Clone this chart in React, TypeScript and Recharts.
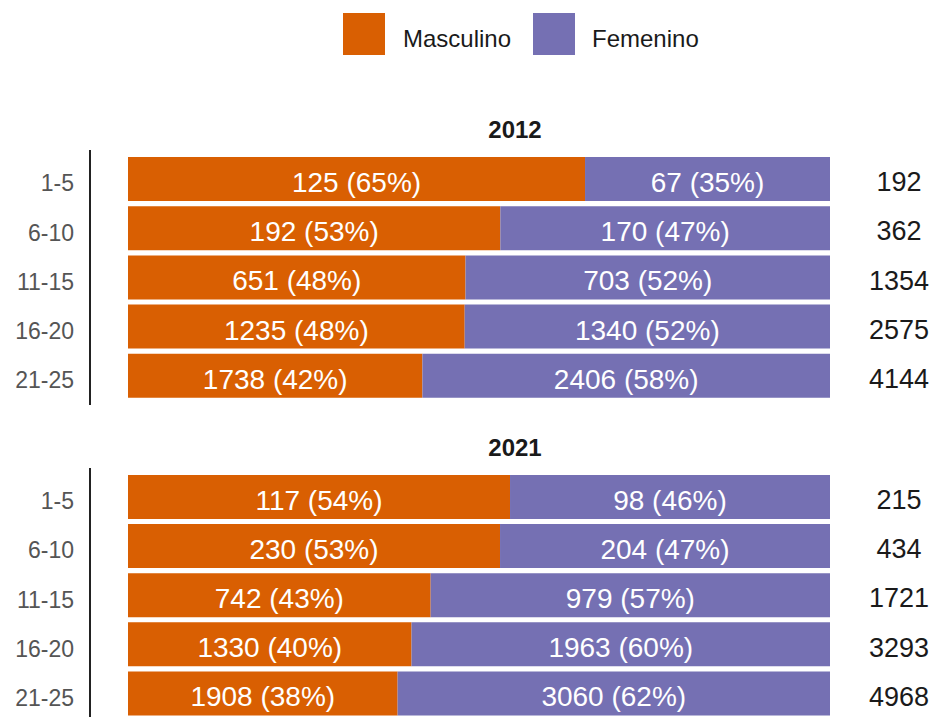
import React from 'react';
import { BarChart, Bar, XAxis, YAxis, LabelList } from 'recharts';

const ageGroups = ['1-5', '6-10', '11-15', '16-20', '21-25'];
const masc2012 = [125, 192, 651, 1235, 1738];
const fem2012 = [67, 170, 703, 1340, 2406];
const masc2021 = [117, 230, 742, 1330, 1908];
const fem2021 = [98, 204, 979, 1963, 3060];
const seriesNames = ['Masculino', 'Femenino'];
const years = ['2012', '2021'];

const COLOR_M = '#D95F02';
const COLOR_F = '#7570B3';
const FONT = '"Liberation Sans", Arial, sans-serif';

function buildRows(m: number[], f: number[]) {
  return ageGroups.map((g, i) => {
    const total = m[i] + f[i];
    return {
      group: g,
      m: m[i],
      f: f[i],
      total,
      mp: m[i] / total,
      fp: f[i] / total,
      mLabel: `${m[i]} (${Math.round((m[i] / total) * 100)}%)`,
      fLabel: `${f[i]} (${Math.round((f[i] / total) * 100)}%)`,
    };
  });
}

const rows2012 = buildRows(masc2012, fem2012);
const rows2021 = buildRows(masc2021, fem2021);

const BAR_FS = 28;
const TOT_FS = 27;
const TICK_FS = 23;

const segLabel = (props: any) => {
  const { x, y, width, height, value } = props;
  const cx = Number(x) + Number(width) / 2;
  const cy = Number(y) + Number(height) / 2;
  return (
    <text x={cx} y={cy + BAR_FS * 0.36 + 3} textAnchor="middle" fill="#ffffff" fontSize={BAR_FS} fontFamily={FONT}>
      {value}
    </text>
  );
};

const totalLabel = (props: any) => {
  const { x, y, width, height, value } = props;
  const cx = Number(x) + Number(width) + 69;
  const cy = Number(y) + Number(height) / 2;
  return (
    <text x={cx} y={cy + TOT_FS * 0.36 + 2.5} textAnchor="middle" fill="#1a1a1a" fontSize={TOT_FS} fontFamily={FONT}>
      {value}
    </text>
  );
};

const yTick = (props: any) => {
  const { x, y, payload } = props;
  return (
    <text x={Number(x)} y={Number(y) + TICK_FS * 0.36 + 4.5} textAnchor="end" fill="#555555" fontSize={TICK_FS} fontFamily={FONT}>
      {payload.value}
    </text>
  );
};

function Panel({ data, height, margin, padBottom }: any) {
  return (
    <BarChart width={935} height={height} data={data} layout="vertical" margin={margin}>
      <XAxis type="number" domain={[0, 1]} hide padding={{ left: 38, right: 0 }} />
      <YAxis
        type="category"
        dataKey="group"
        width={90}
        interval={0}
        tickLine={false}
        tickSize={0}
        tickMargin={16}
        axisLine={{ stroke: '#222222', strokeWidth: 2 }}
        tick={yTick}
        padding={{ top: 4, bottom: padBottom }}
      />
      <Bar dataKey="mp" stackId="a" fill={COLOR_M} barSize={44} isAnimationActive={false}>
        <LabelList dataKey="mLabel" content={segLabel} />
      </Bar>
      <Bar dataKey="fp" stackId="a" fill={COLOR_F} barSize={44} isAnimationActive={false}>
        <LabelList dataKey="fLabel" content={segLabel} />
        <LabelList dataKey="total" content={totalLabel} />
      </Bar>
    </BarChart>
  );
}

export default function App() {
  return (
    <div style={{ position: 'absolute', left: 0, top: 0, width: 935, height: 717, overflow: 'hidden', background: '#ffffff' }}>
      <svg width={935} height={717} style={{ position: 'absolute', left: 0, top: 0 }}>
        <rect x={343} y={13} width={42} height={42} fill={COLOR_M} />
        <text x={403} y={47} fontSize={24} fontFamily={FONT} fill="#1a1a1a">{seriesNames[0]}</text>
        <rect x={533} y={13} width={42} height={42} fill={COLOR_F} />
        <text x={592} y={47} fontSize={24} fontFamily={FONT} fill="#1a1a1a">{seriesNames[1]}</text>
        <text x={515} y={138} fontSize={24} fontWeight="bold" textAnchor="middle" fontFamily={FONT} fill="#1a1a1a">{years[0]}</text>
        <text x={515} y={456} fontSize={24} fontWeight="bold" textAnchor="middle" fontFamily={FONT} fill="#1a1a1a">{years[1]}</text>
      </svg>
      <div style={{ position: 'absolute', left: 0, top: 0 }}>
        <Panel data={rows2012} height={420} margin={{ top: 150, right: 105, bottom: 15, left: 0 }} padBottom={5} />
      </div>
      <div style={{ position: 'absolute', left: 0, top: 430 }}>
        <Panel data={rows2021} height={300} margin={{ top: 38, right: 105, bottom: 7.5, left: 0 }} padBottom={5} />
      </div>
    </div>
  );
}
